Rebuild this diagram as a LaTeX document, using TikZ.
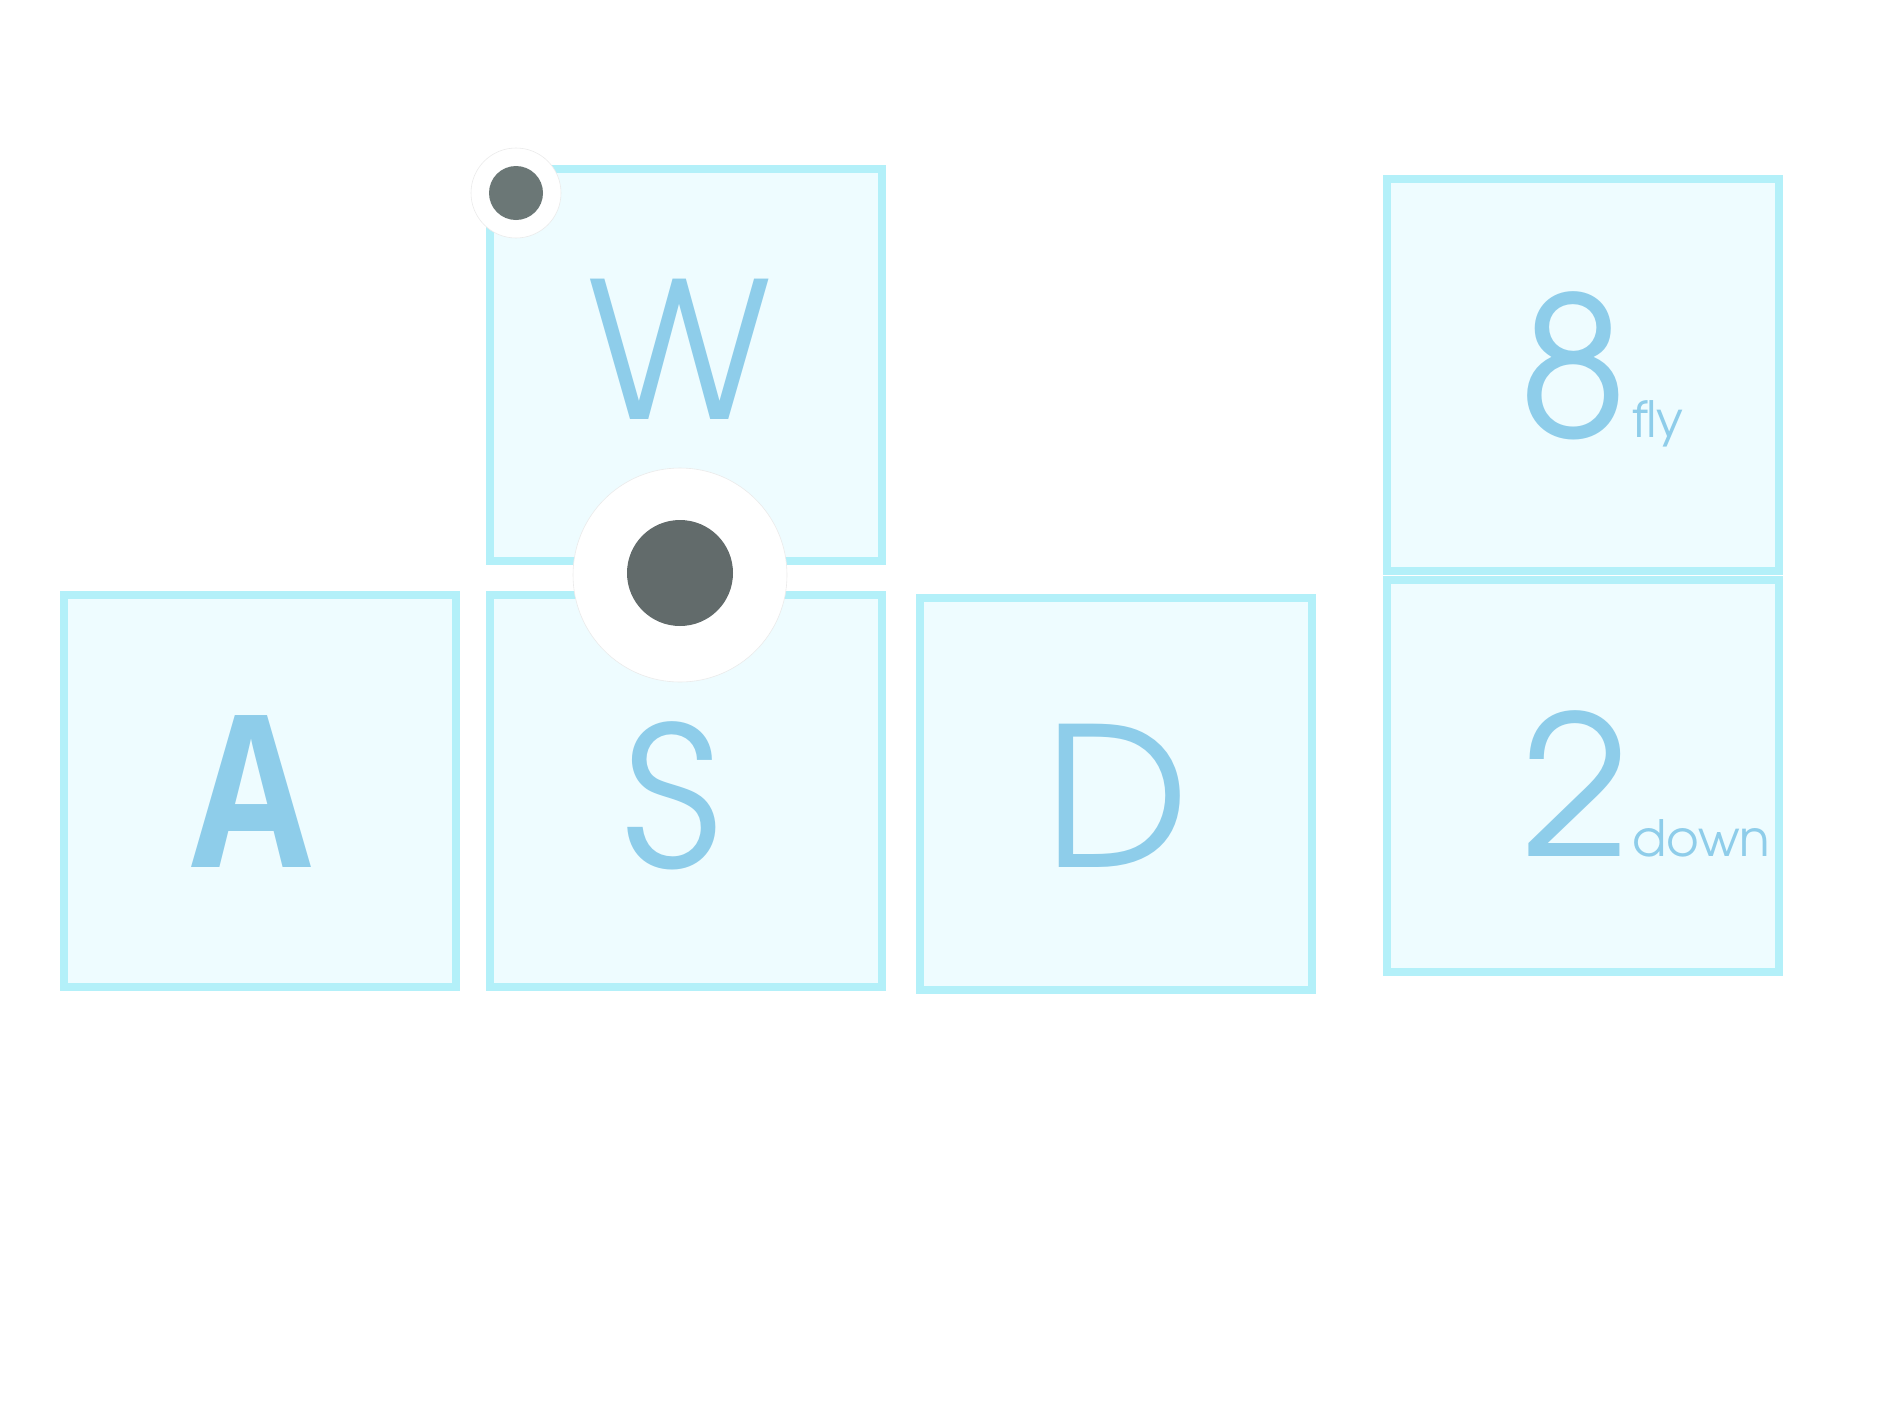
\documentclass[tikz,border=0pt]{standalone}
\usepackage{graphicx}
\usepackage{fontspec}
\setmainfont{TeX Gyre Adventor}
\newfontfamily\afont{Open Sans}
\definecolor{keyborder}{HTML}{B3F0F9}
\definecolor{keyfill}{HTML}{EEFCFF}
\definecolor{keytext}{HTML}{8ECDEA}
\definecolor{dotsmall}{HTML}{6B7776}
\definecolor{dotbig}{HTML}{626B6B}
\tikzset{
  keybox/.style={draw=keyborder, fill=keyfill, line width=8pt, rectangle,
    minimum width=392pt, minimum height=392pt, inner sep=0pt},
  bigletter/.style={text=keytext, inner sep=0pt, anchor=base,
    font=\fontsize{194}{194}\selectfont},
  smalllabel/.style={text=keytext, inner sep=0pt, anchor=base west,
    font=\fontsize{50}{50}\selectfont},
  ringwhite/.style={circle, fill=white, draw=black!8, line width=0.6pt, inner sep=0pt},
  dot/.style={circle, inner sep=0pt}
}
\begin{document}
\begin{tikzpicture}[x=1pt,y=-1pt]
\useasboundingbox (0,0) rectangle (1890,1417);
% keys
\node[keybox] (kW) at (686,365) {};
\node[keybox] (kA) at (260,791) {};
\node[keybox] (kS) at (686,791) {};
\node[keybox] (kD) at (1116,794) {};
\node[keybox] (k8) at (1583,375) {};
\node[keybox] (k2) at (1583,776) {};
% letters
\node[bigletter, font=\fontsize{190}{190}\selectfont] (tW) at (680,419) {W};
\node[bigletter, font=\afont\bfseries\fontsize{212}{212}\selectfont] (tA) at (251,867) {\scalebox{0.82}[1]{A}};
\node[bigletter] (tS) at (672,867) {S};
\node[bigletter] (tD) at (1117,867) {D};
\node[bigletter] (t8) at (1573,437) {8};
\node[smalllabel] (tfly) at (1632,437) {fly};
\node[bigletter] (t2) at (1576,856) {2};
\node[smalllabel] (tdown) at (1632,856) {down};
% dots
\node[ringwhite, minimum size=90pt] (rs) at (516,193) {};
\node[dot, fill=dotsmall, minimum size=54pt] (ds) at (516,193) {};
\node[ringwhite, minimum size=214pt] (rb) at (680,575) {};
\node[dot, fill=dotbig, minimum size=106pt] (db) at (680,573) {};
\end{tikzpicture}
\end{document}
